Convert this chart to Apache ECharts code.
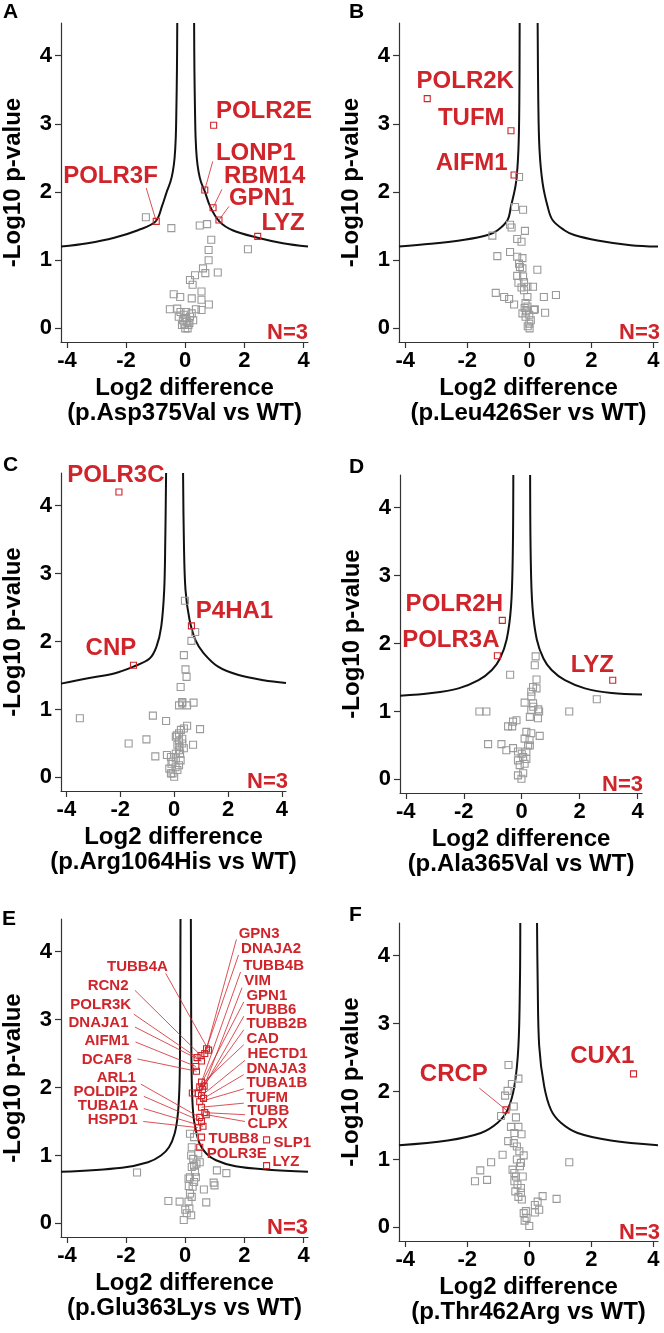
<!DOCTYPE html>
<html><head><meta charset="utf-8">
<script src="https://cdn.jsdelivr.net/npm/echarts@6/dist/echarts.min.js"></script>
<style>html,body{margin:0;padding:0;background:#fff}#c{width:664px;height:1333px}</style>
</head><body><div id="c"></div>
<script>
// ---------- shared tick labels ----------
const xTicks = [-4, -2, 0, 2, 4];
const yTicks = [0, 1, 2, 3, 4];
const panelLetters = ['A', 'B', 'C', 'D', 'E', 'F'];
const xTitles = ['(p.Asp375Val vs WT)', '(p.Leu426Ser vs WT)', '(p.Arg1064His vs WT)',
                 '(p.Ala365Val vs WT)', '(p.Glu363Lys vs WT)', '(p.Thr462Arg vs WT)'];
const nLabel = 'N=3';

// ---------- Panel A ----------
const grayA = [[-1.33,1.63],[-0.47,1.47],[0.49,1.51],[0.74,1.53],[0.88,1.30],[0.79,1.15],[2.12,1.16],[0.79,1.0],[0.6,0.88],[0.68,0.81],[1.10,0.82],[0.33,0.78],[0.16,0.71],[0.25,0.64],[0.55,0.54],[-0.39,0.50],[-0.17,0.46],[0.22,0.44],[0.55,0.42],[0.80,0.35],[-0.52,0.28],[0.36,0.28],[0.55,0.27],[-0.27,0.29],[-0.16,0.24],[-0.05,0.20],[-0.22,0.17],[0,0.15],[0.05,0.10],[0.11,0.05],[0,0.0],[-0.11,0.05],[0.16,0.17],[0.22,0.22],[0.27,0.12],[0.03,0.24],[-0.08,0.12],[0.08,0.0],[0.14,0.08],[-0.03,0.06]];
const hitNamesA = ['POLR2E','LONP1','RBM14','GPN1','LYZ','POLR3F'];
const hitsA = [[0.96,2.98],[0.66,2.03],[0.94,1.77],[1.14,1.59],[2.45,1.35],[-0.98,1.57]];
const curveLA = [[-0.27,4.48],[-0.28,3.8],[-0.30,3.2],[-0.32,2.8],[-0.36,2.5],[-0.42,2.3],[-0.50,2.15],[-0.62,2.01],[-0.78,1.80],[-1.0,1.57],[-1.6,1.44],[-2.4,1.33],[-3.3,1.25],[-4.2,1.20]];
const curveRA = [[0.30,4.48],[0.31,3.8],[0.33,3.2],[0.35,2.8],[0.39,2.5],[0.45,2.3],[0.53,2.15],[0.66,2.01],[0.85,1.78],[1.15,1.57],[1.6,1.44],[2.45,1.33],[3.3,1.25],[4.15,1.20]];

// ---------- Panel B ----------
const grayB = [[-0.33,2.22],[-0.46,1.78],[-0.20,1.74],[-0.62,1.52],[-0.57,1.48],[-0.14,1.43],[-1.19,1.36],[-0.39,1.31],[-0.25,1.27],[-1.03,1.06],[-0.62,1.12],[-0.39,1.05],[-0.22,1.03],[-0.33,0.95],[-0.22,0.88],[0.26,0.86],[-0.39,0.77],[-0.2,0.76],[-0.35,0.67],[-0.17,0.68],[-0.06,0.61],[-0.17,0.56],[0.12,0.61],[-1.08,0.52],[-0.81,0.46],[-0.65,0.43],[-0.49,0.35],[-0.06,0.46],[-0.12,0.37],[0.47,0.46],[0.86,0.49],[0.51,0.23],[-0.22,0.22],[0.15,0.27],[-0.12,0.17],[0,0.07],[0.01,0.0],[-0.06,0.32],[0.18,0.28],[-0.1,0.25],[0.05,0.12],[-0.15,0.3],[0,0.2],[-0.05,0.03],[-0.3,0.9],[-0.25,0.6]];
const hitNamesB = ['POLR2K','TUFM','AIFM1'];
const hitsB = [[-3.29,3.37],[-0.59,2.90],[-0.49,2.25]];
const curveLB = [[-0.31,4.48],[-0.32,3.35],[-0.35,2.62],[-0.43,2.13],[-0.59,1.79],[-0.70,1.59],[-1.02,1.44],[-1.34,1.37],[-2.09,1.30],[-3.17,1.24],[-4.2,1.20]];
const curveRB = [[0.27,4.48],[0.29,3.35],[0.33,2.62],[0.43,2.13],[0.59,1.79],[0.75,1.59],[1.13,1.44],[1.45,1.37],[2.20,1.29],[3.27,1.22],[4.15,1.20]];

// ---------- Panel C ----------
const grayC = [[0.40,2.60],[0.78,2.14],[0.64,2.01],[0.36,1.80],[0.42,1.59],[0.46,1.48],[0.24,1.33],[0.18,1.06],[0.30,1.11],[0.48,1.06],[0.72,1.10],[-3.50,0.87],[-0.79,0.91],[-0.30,0.83],[0.96,0.71],[-1.69,0.50],[-1.03,0.56],[-0.70,0.31],[0.70,0.48],[-0.27,0.33],[0.48,0.76],[0.36,0.72],[0.18,0.65],[0.06,0.60],[0.30,0.57],[0.18,0.53],[0.12,0.48],[0.30,0.50],[0.18,0.40],[0.06,0.35],[-0.12,0.30],[-0.06,0.23],[-0.18,0.13],[-0.06,0.06],[0,0.01],[0.12,0.11],[0.24,0.25],[0.18,0.18],[0.36,0.43],[0.06,0.28],[-0.12,0.06],[0.25,0.7],[0.1,0.62],[0.2,0.45],[-0.1,0.2],[0.05,0.15],[0.3,1.09],[0.22,0.35]];
const hitNamesC = ['POLR3C','CNP','P4HA1'];
const hitsC = [[-2.05,4.20],[-1.51,1.65],[0.64,2.23]];
const curveLC = [[-0.30,4.48],[-0.33,3.49],[-0.37,2.76],[-0.48,2.22],[-0.66,1.92],[-0.91,1.75],[-1.51,1.63],[-2.23,1.53],[-3.2,1.46],[-4.2,1.38]];
const curveRC = [[0.33,4.48],[0.36,3.49],[0.42,2.76],[0.57,2.32],[0.79,2.02],[1.09,1.83],[1.63,1.63],[2.36,1.51],[3.32,1.43],[4.15,1.39]];

// ---------- Panel D ----------
const grayD = [[-0.40,1.54],[0.48,1.81],[0.45,1.68],[0.51,1.47],[0.39,1.36],[0.51,1.34],[0.33,1.29],[0.33,1.22],[2.59,1.18],[0.10,1.13],[0.39,1.12],[-1.46,1.0],[-1.22,1.0],[1.64,1.0],[0.33,1.02],[0.60,1.0],[0.28,0.92],[0.56,0.90],[-0.18,0.87],[-0.30,0.85],[-0.47,0.78],[-0.33,0.78],[0.16,0.70],[0.33,0.68],[0.62,0.64],[0.10,0.60],[0.27,0.58],[-1.16,0.52],[-0.70,0.52],[0.28,0.50],[-0.30,0.46],[-0.53,0.43],[-0.13,0.41],[0.16,0.41],[0.05,0.33],[-0.13,0.28],[0.16,0.30],[-0.07,0.21],[0.10,0.23],[-0.13,0.06],[-0.01,0.01],[0.05,0.09],[0.4,1.07],[0.57,1.03],[0.22,0.5],[0.0,0.38]];
const hitNamesD = ['POLR2H','POLR3A','LYZ'];
const hitsD = [[-0.67,2.34],[-0.84,1.82],[3.14,1.46]];
const curveLD = [[-0.29,4.48],[-0.31,3.28],[-0.37,2.54],[-0.52,2.06],[-0.75,1.78],[-1.03,1.61],[-1.49,1.46],[-2.18,1.34],[-3.10,1.27],[-4.2,1.23]];
const curveRD = [[0.29,4.48],[0.31,3.28],[0.37,2.54],[0.52,2.06],[0.75,1.78],[1.03,1.61],[1.49,1.46],[2.18,1.34],[3.10,1.27],[4.15,1.25]];

// ---------- Panel E ----------
const grayE = [[-1.63,0.75],[0.16,1.32],[0.30,1.27],[0.22,1.12],[0.44,1.03],[0.27,0.95],[0.38,0.88],[0.22,0.83],[0.33,0.76],[0.16,0.68],[0.36,0.68],[0.11,0.66],[0.30,0.61],[0.25,0.54],[0.16,0.44],[0.22,0.39],[0.11,0.32],[0.14,0.22],[0,0.20],[-0.05,0.05],[0.05,0.15],[-0.19,0.32],[-0.57,0.33],[0.63,0.50],[0.71,0.31],[0.96,0.60],[0.99,0.56],[1.07,0.78],[1.39,0.74],[0.49,0.90],[0.2,1.0],[0.3,0.85],[0.12,0.55],[0.2,0.12]];
const hitNamesE = ['TUBB4A','RCN2','POLR3K','DNAJA1','AIFM1','DCAF8','ARL1','POLDIP2','TUBA1A','HSPD1',
  'GPN3','DNAJA2','TUBB4B','VIM','GPN1','TUBB6','TUBB2B','CAD','HECTD1','DNAJA3','TUBA1B','TUFM','TUBB','CLPX',
  'TUBB8','POLR3E','SLP1','LYZ'];
const hitsE = [[0.79,2.55],[0.53,2.47],[0.40,2.44],[0.55,2.39],[0.36,2.31],[0.38,2.24],[0.49,1.56],[0.55,1.50],[0.60,1.43],[0.42,1.41],
  [0.72,2.57],[0.66,2.50],[0.55,2.08],[0.64,2.02],[0.49,2.01],[0.58,1.97],[0.44,1.91],[0.24,1.92],[0.55,1.88],[0.62,1.84],[0.49,1.79],[0.55,1.71],[0.66,1.63],[0.71,1.60],
  [0.55,1.27],[0.49,1.12],[2.75,1.23],[2.75,0.85]];
const curveLE = [[-0.16,4.48],[-0.17,3.08],[-0.19,2.10],[-0.25,1.61],[-0.36,1.32],[-0.55,1.12],[-0.82,1.0],[-1.26,0.90],[-2.14,0.82],[-4.2,0.76]];
const curveRE = [[0.19,4.48],[0.20,3.08],[0.22,2.10],[0.27,1.61],[0.36,1.37],[0.49,1.17],[0.71,1.03],[1.04,0.93],[1.70,0.84],[2.80,0.79],[4.15,0.76]];

// ---------- Panel F ----------
const grayF = [[-0.67,2.39],[-0.35,2.19],[-0.56,2.11],[-0.70,2.01],[-0.78,1.94],[-0.50,1.78],[-0.91,1.64],[-0.43,1.62],[-0.59,1.48],[-0.35,1.48],[-0.48,1.39],[-0.25,1.37],[-0.68,1.27],[-0.50,1.24],[-0.40,1.19],[-0.32,1.12],[-0.86,1.07],[-0.18,1.06],[-0.40,1.0],[-0.27,0.95],[-1.23,0.96],[-1.58,0.84],[-1.75,0.68],[-1.36,0.70],[-0.54,0.85],[-0.48,0.80],[-0.43,0.75],[-0.21,0.75],[-0.48,0.68],[-0.38,0.63],[-0.27,0.58],[-0.45,0.53],[-0.27,0.51],[-0.24,0.41],[-0.11,0.24],[-0.18,0.21],[-0.09,0.14],[0,0.02],[0.18,0.33],[0.27,0.38],[0.43,0.46],[0.18,0.22],[0.32,0.26],[0.88,0.42],[1.29,0.96],[-0.3,0.9],[-0.35,0.45],[-0.15,0.1]];
const hitNamesF = ['CRCP','CUX1'];
const hitsF = [[-0.75,1.73],[3.36,2.26]];
const curveLF = [[-0.29,4.48],[-0.30,3.65],[-0.35,2.67],[-0.48,2.08],[-0.70,1.73],[-1.02,1.54],[-1.56,1.39],[-2.63,1.28],[-4.2,1.21]];
const curveRF = [[0.25,4.48],[0.27,3.65],[0.32,2.67],[0.48,2.08],[0.70,1.73],[1.02,1.54],[1.56,1.39],[2.63,1.28],[4.15,1.21]];

// ---------- annotation layout (label anchors / leader lines, in data units) ----------
const labelPosA = [[1.02,3.19,'right'],[1.02,2.57,'right'],[1.29,2.23,'right'],[1.46,1.90,'right'],[2.56,1.54,'right'],[-0.91,2.23,'left']];
const leadersA = [[[0.66,2.03],[0.93,2.45]],[[0.94,1.77],[1.24,2.04]],[[1.14,1.59],[1.48,1.79]],[[-0.98,1.57],[-1.32,2.06]]];
const labelPosB = [[-3.65,3.62,'right'],[-0.78,3.08,'left'],[-0.68,2.42,'left']];
const labelPosC = [[-3.99,4.44,'right'],[-1.39,1.90,'left'],[0.785,2.45,'right']];
const labelPosD = [[-0.63,2.57,'left'],[-0.75,2.05,'left'],[3.20,1.68,'left']];
const labelPosF = [[-1.32,2.25,'left'],[3.40,2.52,'left']];
const leadersF = [[[-0.75,1.73],[-1.61,2.05]]];
const labelPosE = [[-0.57,3.78,'left'],[-1.90,3.50,'left'],[-1.81,3.22,'left'],[-1.90,2.95,'left'],[-1.87,2.68,'left'],[-1.79,2.41,'left'],[-1.65,2.14,'left'],[-1.59,1.93,'left'],[-1.56,1.73,'left'],[-1.59,1.53,'left'],
  [1.79,4.26,'right'],[1.87,4.04,'right'],[1.94,3.79,'right'],[1.98,3.57,'right'],[2.05,3.35,'right'],[2.05,3.14,'right'],[2.05,2.94,'right'],[2.05,2.72,'right'],[2.09,2.49,'right'],[2.05,2.28,'right'],[2.05,2.07,'right'],[2.05,1.85,'right'],[2.09,1.65,'right'],[2.09,1.46,'right'],
  [0.77,1.25,'right'],[0.71,1.02,'right'],[2.97,1.19,'right'],[2.93,0.91,'right']];
const leaderEndsE = [[-0.66,3.68],[-1.70,3.43],[-1.74,3.08],[-1.70,2.89],[-1.68,2.67],[-1.62,2.42],[-1.50,2.05],[-1.40,1.87],[-1.40,1.69],[-1.42,1.50],
  [1.73,4.18],[1.80,3.95],[1.87,3.70],[1.92,3.47],[1.98,3.26],[1.98,3.05],[1.98,2.85],[1.98,2.63],[2.02,2.40],[1.98,2.19],[1.98,1.98],[1.98,1.77],[2.02,1.60],[2.02,1.50]];
const leadersE = leaderEndsE.map((e, k) => [hitsE[k], e]);

// ---------- layout ----------
const FONT = "'Liberation Sans', Arial, Helvetica, sans-serif";
const RED = '#d0242b';
const GRAY = '#9a9a9a';
const panels = [
  {grid:{left:54, top:23, width:254, height:319}, gray:grayA, names:hitNamesA, hits:hitsA, cl:curveLA, cr:curveRA, labels:labelPosA, leaders:leadersA, fs:24, letter:[3,2], n:[308,344]},
  {grid:{left:399, top:23, width:259, height:319}, gray:grayB, names:hitNamesB, hits:hitsB, cl:curveLB, cr:curveRB, labels:labelPosB, leaders:[], fs:24, letter:[349,2], n:[660,344]},
  {grid:{left:56, top:473, width:230, height:318}, gray:grayC, names:hitNamesC, hits:hitsC, cl:curveLC, cr:curveRC, labels:labelPosC, leaders:[], fs:24, letter:[3,455], n:[288,793]},
  {grid:{left:400, top:475, width:242, height:318}, gray:grayD, names:hitNamesD, hits:hitsD, cl:curveLD, cr:curveRD, labels:labelPosD, leaders:[], fs:24, letter:[349,457], n:[643,796]},
  {grid:{left:54, top:919, width:254, height:318}, gray:grayE, names:hitNamesE, hits:hitsE, cl:curveLE, cr:curveRE, labels:labelPosE, leaders:leadersE, fs:15, letter:[2,909], n:[308,1239]},
  {grid:{left:399, top:923, width:259, height:318}, gray:grayF, names:hitNamesF, hits:hitsF, cl:curveLF, cr:curveRF, labels:labelPosF, leaders:leadersF, fs:24, letter:[349,905], n:[660,1244]}
];

const grids = [], xAxes = [], yAxes = [], series = [], graphics = [];
panels.forEach((p, i) => {
  grids.push(Object.assign({containLabel:false}, p.grid));
  xAxes.push({
    type:'value', gridIndex:i, min:-4.2, max:4.15,
    name:'Log2 difference\n' + xTitles[i], nameLocation:'middle', nameGap:34,
    nameTextStyle:{fontFamily:FONT, fontSize:24, fontWeight:'bold', color:'#000', lineHeight:25},
    axisLine:{onZero:false, lineStyle:{color:'#333', width:1.2}},
    axisTick:{show:true, length:6, customValues:xTicks, lineStyle:{color:'#333', width:1.2}},
    axisLabel:{customValues:xTicks, fontFamily:FONT, fontSize:22, fontWeight:'bold', color:'#000', margin:8},
    splitLine:{show:false}
  });
  yAxes.push({
    type:'value', gridIndex:i, min:-0.2, max:4.48,
    name:'-Log10 p-value', nameLocation:'middle', nameGap:36,
    nameTextStyle:{fontFamily:FONT, fontSize:24, fontWeight:'bold', color:'#000'},
    axisLine:{show:true, onZero:false, lineStyle:{color:'#333', width:1.2}},
    axisTick:{show:true, length:6, customValues:yTicks, lineStyle:{color:'#333', width:1.2}},
    axisLabel:{customValues:yTicks, fontFamily:FONT, fontSize:22, fontWeight:'bold', color:'#000', margin:9},
    splitLine:{show:false}
  });
  [p.cl, p.cr].forEach(c => series.push({
    type:'line', xAxisIndex:i, yAxisIndex:i, data:c, showSymbol:false, smooth:0.35,
    lineStyle:{color:'#111', width:2}, silent:true, z:2, clip:true
  }));
  series.push({
    type:'scatter', xAxisIndex:i, yAxisIndex:i, data:p.gray, symbol:'rect', symbolSize:7,
    itemStyle:{color:'rgba(0,0,0,0)', borderColor:GRAY, borderWidth:1.1, opacity:1}, silent:true, z:3
  });
  if (p.leaders.length) series.push({
    type:'lines', coordinateSystem:'cartesian2d', xAxisIndex:i, yAxisIndex:i,
    data:p.leaders.map(c => ({coords:c})), symbol:'none',
    lineStyle:{color:RED, width:0.8, opacity:1, curveness:0}, silent:true, z:4
  });
  series.push({
    type:'scatter', xAxisIndex:i, yAxisIndex:i, data:p.hits, symbol:'rect', symbolSize:6,
    itemStyle:{color:'rgba(0,0,0,0)', borderColor:RED, borderWidth:1.1, opacity:1}, silent:true, z:5
  });
  series.push({
    type:'scatter', xAxisIndex:i, yAxisIndex:i, symbolSize:1, clip:false,
    data:p.labels.map((l, k) => ({name:p.names[k], value:[l[0], l[1]], label:{position:l[2]}})),
    itemStyle:{color:'rgba(0,0,0,0)', opacity:1},
    label:{show:true, formatter:'{b}', distance:0, color:RED, opacity:1, fontSize:p.fs, fontWeight:'bold', fontFamily:FONT},
    silent:true, z:6
  });
  graphics.push({type:'text', left:p.letter[0], top:p.letter[1],
    style:{text:panelLetters[i], font:"bold 21px " + FONT, fill:'#000'}});
  graphics.push({type:'text', x:p.n[0], y:p.n[1],
    style:{text:nLabel, font:"bold 22px " + FONT, fill:RED, textAlign:'right', textVerticalAlign:'bottom'}});
});

const chart = echarts.init(document.getElementById('c'), null, {renderer:'canvas'});
chart.setOption({
  animation:false, backgroundColor:'#fff',
  grid:grids, xAxis:xAxes, yAxis:yAxes, series:series, graphic:graphics
});
</script></body></html>
